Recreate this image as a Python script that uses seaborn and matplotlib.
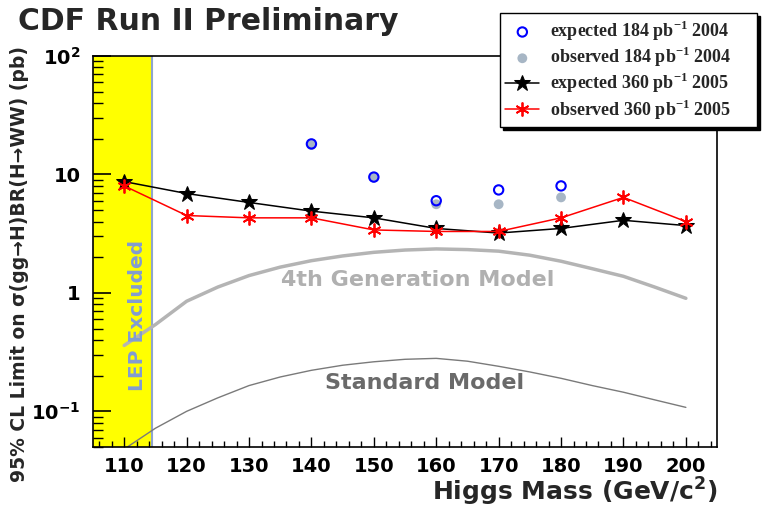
import numpy as np
import pandas as pd
import matplotlib
matplotlib.use('Agg')
import matplotlib.pyplot as plt
import seaborn as sns

# limits vs Higgs mass
mass = [110, 120, 130, 140, 150, 160, 170, 180, 190, 200]
exp_360 = [8.7, 6.9, 5.8, 4.9, 4.3, 3.5, 3.2, 3.5, 4.1, 3.7]
obs_360 = [8.0, 4.5, 4.3, 4.3, 3.4, 3.3, 3.3, 4.3, 6.4, 4.0]

mass_184 = [140, 150, 160, 170, 180]
exp_184 = [18.1, 9.5, 6.0, 7.4, 8.0]
obs_184 = [17.7, 9.4, 5.6, 5.6, 6.4]

# theory curves
theory_mass = [110, 115, 120, 125, 130, 135, 140, 145, 150, 155, 160,
               165, 170, 175, 180, 185, 190, 195, 200]
sm_xs = [0.048, 0.072, 0.10, 0.13, 0.165, 0.195, 0.222, 0.245, 0.262, 0.275, 0.28,
         0.265, 0.24, 0.215, 0.19, 0.165, 0.145, 0.125, 0.108]
gen4_xs = [0.36, 0.54, 0.85, 1.12, 1.4, 1.65, 1.87, 2.05, 2.2, 2.3, 2.35,
           2.32, 2.25, 2.08, 1.85, 1.6, 1.38, 1.12, 0.9]

lep_limit = 114.4

sns.set_style('white')
plt.rcParams['font.family'] = ['DejaVu Sans']
plt.rcParams['font.weight'] = 'bold'
plt.rcParams['mathtext.fontset'] = 'custom'
plt.rcParams['mathtext.rm'] = 'Liberation Serif:bold'
plt.rcParams['mathtext.bf'] = 'DejaVu Sans:bold'

fig = plt.figure(figsize=(7.63, 5.08), dpi=100)
ax = fig.add_axes([0.1219, 0.1201, 0.8179, 0.7697])

ax.axvspan(105, lep_limit, color='#ffff00', zorder=0, lw=0)
ax.axvline(lep_limit, color='#8fa5cc', lw=1.5, zorder=1)

th = pd.DataFrame({'mass': theory_mass, 'sm': sm_xs, 'gen4': gen4_xs})
sns.lineplot(data=th, x='mass', y='gen4', ax=ax, color='#b4b4b4', lw=2.5, zorder=2)
sns.lineplot(data=th, x='mass', y='sm', ax=ax, color='#7a7a7a', lw=1.0, zorder=2)

d360 = pd.DataFrame({'mass': mass, 'exp': exp_360, 'obs': obs_360})
d184 = pd.DataFrame({'mass': mass_184, 'exp': exp_184, 'obs': obs_184})

sns.scatterplot(data=d184, x='mass', y='obs', ax=ax, color='#a7b6c5', s=50,
                edgecolor='none', zorder=4, label='observed 184 pb$^{-1}$ 2004')
sns.scatterplot(data=d184, x='mass', y='exp', ax=ax, facecolor='none', edgecolor='#0000ff',
                linewidth=1.5, s=45, zorder=5, label='expected 184 pb$^{-1}$ 2004')
sns.lineplot(data=d360, x='mass', y='exp', ax=ax, color='black', lw=1.1, marker='*',
             markersize=12, markeredgecolor='black', markerfacecolor='black',
             zorder=5, label='expected 360 pb$^{-1}$ 2005')
sns.lineplot(data=d360, x='mass', y='obs', ax=ax, color='red', lw=1.1, marker=(6, 2, 0),
             markersize=10, markeredgewidth=1.3, markeredgecolor='red',
             zorder=6, label='observed 360 pb$^{-1}$ 2005')

ax.set_yscale('log')
ax.set_xlim(105, 205)
ax.set_ylim(0.05, 100)
ax.set_xticks(range(110, 201, 10))
ax.set_xticks(range(106, 205, 2), minor=True)
ax.set_yticks([0.1, 1, 10, 100])
ax.set_yticklabels([r'$\mathbf{10^{-1}}$', '1', '10', r'$\mathbf{10^{2}}$'])
ax.tick_params(axis='both', which='both', direction='in', labelsize=14, colors='black',
               left=True, bottom=True, top=False, right=False)
ax.tick_params(axis='y', which='major', length=13, width=1.2, pad=9)
ax.tick_params(axis='y', which='minor', length=7, width=1.0)
ax.tick_params(axis='x', which='major', length=7, width=1.0, pad=7)
ax.tick_params(axis='x', which='minor', length=4, width=1.0)
for s in ax.spines.values():
    s.set_color('black')
    s.set_linewidth(1.2)

ax.set_xlabel('')
ax.set_ylabel('')
fig.text(0.941, 0.063, r'Higgs Mass (GeV/c$^{\mathbf{2}}$)', ha='right', va='top',
         fontsize=18, fontweight='bold')
fig.text(0.026, 0.91, u'95% CL Limit on \u03c3(gg\u2192H)BR(H\u2192WW) (pb)', rotation=90,
         ha='center', va='top', fontsize=13.5, fontweight='bold')
fig.text(0.024, 0.957, 'CDF Run II Preliminary', ha='left', va='center',
         fontsize=21.5, fontweight='bold')

ax.text(157.1, 1.28, '4th Generation Model', ha='center', va='center', fontsize=16,
        fontweight='bold', color='#b0b0b0')
ax.text(158.1, 0.173, 'Standard Model', ha='center', va='center', fontsize=16,
        fontweight='bold', color='#6a6a6a')
ax.text(112.2, 0.65, 'LEP Excluded', rotation=90, ha='center', va='center', fontsize=14.5,
        fontweight='bold', color='#829cd2')

ax.get_legend().remove()
h, l = ax.get_legend_handles_labels()
order = [1, 0, 2, 3]
leg = fig.legend([h[i] for i in order], [l[i] for i in order], loc='upper left',
                 bbox_to_anchor=(0.655, 0.758, 0.337, 0.216), mode='expand',
                 prop={'family': 'Liberation Serif', 'size': 13, 'weight': 'bold'},
                 frameon=True, fancybox=False, shadow={'color': 'black', 'alpha': 1},
                 edgecolor='black', borderaxespad=0, borderpad=0.3, handlelength=1.9,
                 handletextpad=0.6, labelspacing=0.12)
leg.get_frame().set_linewidth(1.0)

fig.savefig('out.png', dpi=100)
